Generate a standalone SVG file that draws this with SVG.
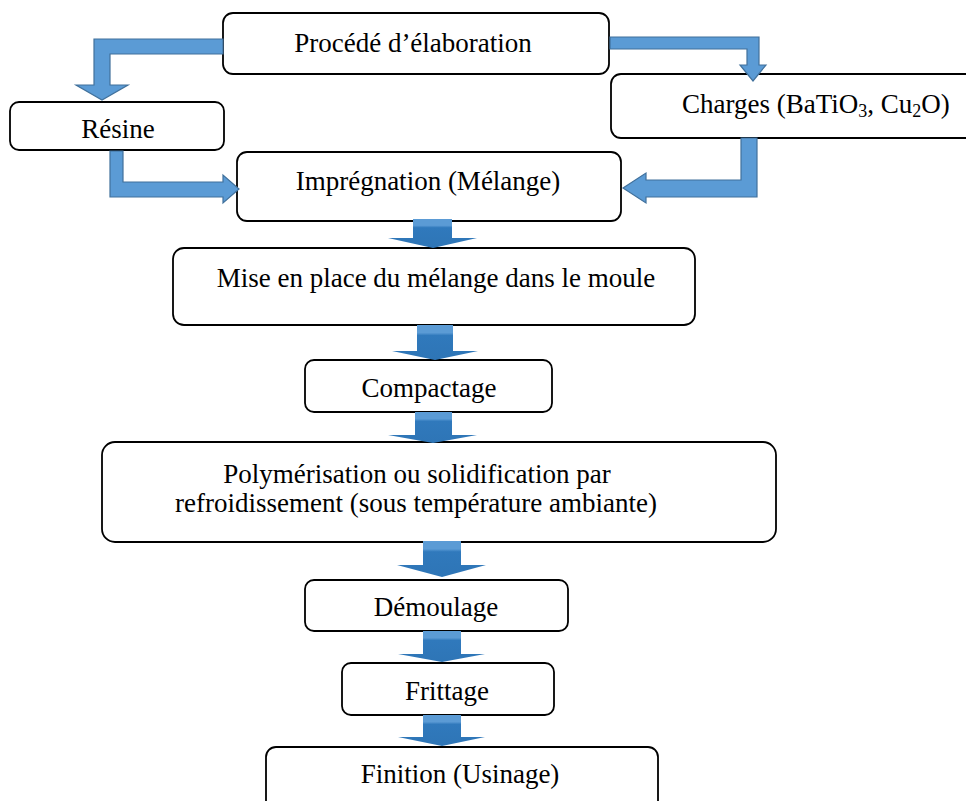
<svg xmlns="http://www.w3.org/2000/svg" width="966" height="801" viewBox="0 0 966 801">
  <style>
    .box { fill: #ffffff; stroke: #000000; stroke-width: 1.8; }
    .lbl { font-family: "Liberation Serif", "Times New Roman", serif; font-size: 27px; fill: #000000; }
    .mid { text-anchor: middle; }
    .bent { fill: #5B9BD5; stroke: #41719C; stroke-width: 1.2; stroke-linejoin: miter; }
    .down { fill: url(#downFill); stroke: none; }
  </style>
  <defs>
    <linearGradient id="downFill" x1="0" y1="0" x2="0" y2="1">
      <stop offset="0" stop-color="#5B9BD5"/>
      <stop offset="0.22" stop-color="#5B9BD5"/>
      <stop offset="0.3" stop-color="#3079BC"/>
      <stop offset="1" stop-color="#2E75B6"/>
    </linearGradient>
  </defs>

  <!-- process steps -->
  <g id="node-procede">
    <rect class="box" x="223" y="13" width="386" height="61" rx="10"/>
    <text class="lbl mid" x="413" y="52">Procédé d’élaboration</text>
  </g>
  <g id="node-resine">
    <rect class="box" x="10" y="102" width="214" height="48" rx="9"/>
    <text class="lbl mid" x="118" y="138">Résine</text>
  </g>
  <g id="node-charges">
    <rect class="box" x="611" y="74" width="372" height="64" rx="10"/>
    <text class="lbl" x="682" y="113">Charges (BaTiO<tspan font-size="18" dy="4">3</tspan><tspan dy="-4">, Cu</tspan><tspan font-size="18" dy="4">2</tspan><tspan dy="-4">O)</tspan></text>
  </g>
  <g id="node-impregnation">
    <rect class="box" x="237" y="152" width="384" height="69" rx="10"/>
    <text class="lbl mid" x="428" y="190">Imprégnation (Mélange)</text>
  </g>
  <g id="node-moule">
    <rect class="box" x="173" y="248" width="522" height="77" rx="11"/>
    <text class="lbl mid" x="436" y="287">Mise en place du mélange dans le moule</text>
  </g>
  <g id="node-compactage">
    <rect class="box" x="305" y="360" width="247" height="52" rx="9"/>
    <text class="lbl mid" x="429" y="397">Compactage</text>
  </g>
  <g id="node-polymerisation">
    <rect class="box" x="102" y="442" width="674" height="100" rx="13"/>
    <text class="lbl mid" x="417" y="483">Polymérisation ou solidification par</text>
    <text class="lbl mid" x="416" y="512">refroidissement (sous température ambiante)</text>
  </g>
  <g id="node-demoulage">
    <rect class="box" x="305" y="580" width="263" height="51" rx="9"/>
    <text class="lbl mid" x="436" y="616">Démoulage</text>
  </g>
  <g id="node-frittage">
    <rect class="box" x="342" y="663" width="212" height="52" rx="9"/>
    <text class="lbl mid" x="447" y="700">Frittage</text>
  </g>
  <g id="node-finition">
    <rect class="box" x="266" y="747" width="392" height="80" rx="10"/>
    <text class="lbl mid" x="460" y="783">Finition (Usinage)</text>
  </g>

  <!-- block arrows between steps -->
  <g id="connectors">
    <polygon class="bent" points="223,39 94,39 94,85 76,85 102,100 128,85 110,85 110,54 223,54"/>
    <polygon class="bent" points="610,37 759,37 759,65 766,65 753,81 740,65 747,65 747,49 610,49"/>
    <polygon class="bent" points="110,151 123,151 123,182 223,182 223,175 239,189 223,203 223,197 110,197"/>
    <polygon class="bent" points="757,138 741,138 741,180 646,180 646,173 623,188 646,203 646,197 757,197"/>

    <polygon class="down" points="413,219 452,219 452,238 477,238 433,248 388,238 413,238"/>
    <polygon class="down" points="417,325 453,325 453,351 478,351 435,360 392,351 417,351"/>
    <polygon class="down" points="415,412 452,412 452,435 477,435 433,443 388,435 415,435"/>
    <polygon class="down" points="423,541 461,541 461,565 486,565 442,577 397,565 423,565"/>
    <polygon class="down" points="423,631 461,631 461,654 485,654 442,662 398,654 423,654"/>
    <polygon class="down" points="423,715 461,715 461,737 485,737 442,746 398,737 423,737"/>
  </g>
</svg>
